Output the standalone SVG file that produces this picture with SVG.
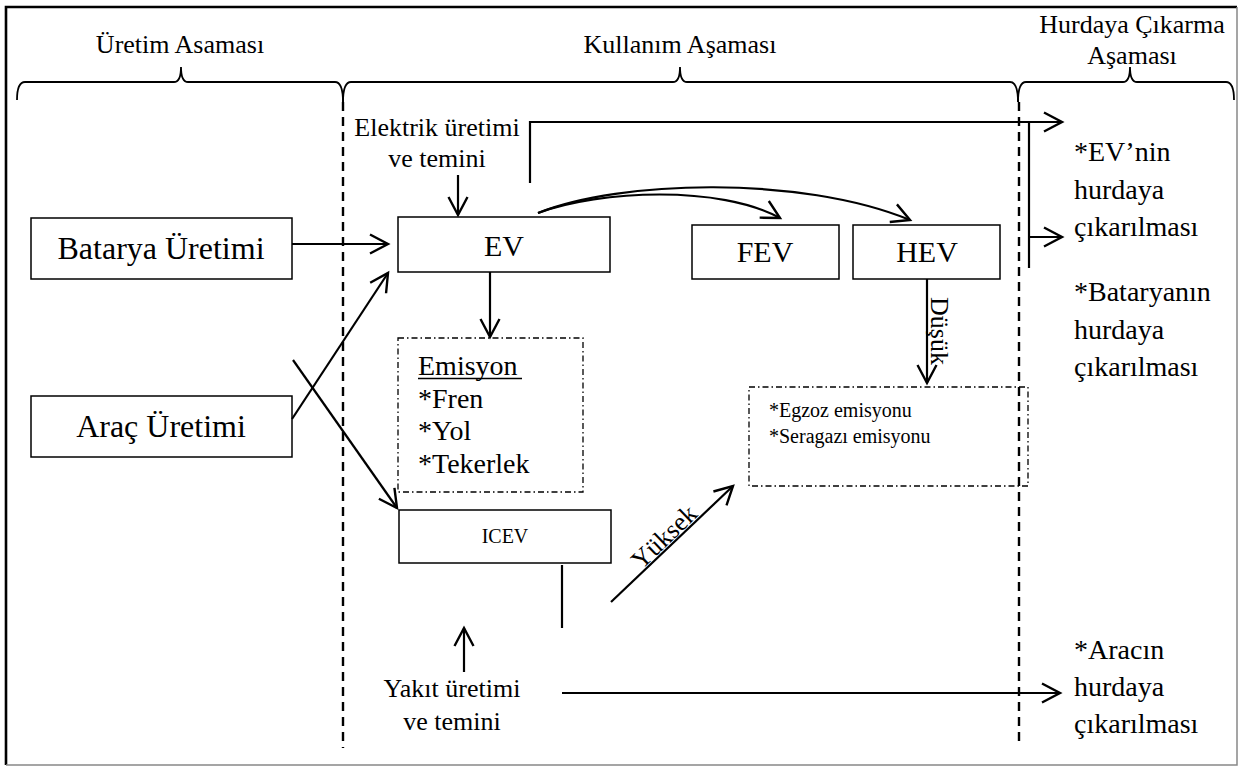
<svg xmlns="http://www.w3.org/2000/svg" width="1240" height="767" viewBox="0 0 1240 767">
<defs>
<style>
text{font-family:"Liberation Serif","Times New Roman",serif;fill:#000}
.box{fill:#fff;stroke:#000;stroke-width:1.5}
.dd{fill:none;stroke:#000;stroke-width:1.3;stroke-dasharray:6 3 1.5 3}
.ln{fill:none;stroke:#000;stroke-width:2.2}
.ar{fill:none;stroke:#000;stroke-width:2.2;marker-end:url(#ah)}
.dash{fill:none;stroke:#000;stroke-width:2.4;stroke-dasharray:9 6}
.br{fill:none;stroke:#000;stroke-width:1.8}
.xl{font-size:32px}
.big{font-size:30px}
.mid{font-size:28px}
.lab{font-size:26px}
.sm{font-size:20px}
</style>
<marker id="ah" markerUnits="userSpaceOnUse" markerWidth="24" markerHeight="24" viewBox="-21 -12 24 24" refX="0" refY="0" orient="auto">
<path d="M-18,-9.5 L0,0 L-18,9.5" fill="none" stroke="#000" stroke-width="2.4"/>
</marker>
</defs>
<rect x="0" y="0" width="1240" height="767" fill="#fff"/>
<g id="frame">
<path d="M6,765 L6,7 L1237,7" fill="none" stroke="#000" stroke-width="2.6"/>
<path d="M1237,7 L1237,765 L6,765" fill="none" stroke="#888" stroke-width="1.5"/>
</g>
<g id="phases">
<text class="lab" x="180" y="53" text-anchor="middle">Üretim Asaması</text>
<text class="lab" x="680" y="53" text-anchor="middle">Kullanım Aşaması</text>
<text class="lab" x="1132" y="33" text-anchor="middle">Hurdaya Çıkarma</text>
<text class="lab" x="1132" y="64" text-anchor="middle">Aşaması</text>
<path class="br" d="M17,100 Q17,82 25,82 L174,82 Q181,82 181,67 Q181,82 188,82 L335,82 Q343,82 343,102"/>
<path class="br" d="M343,102 Q343,82 351,82 L673,82 Q680,82 680,67 Q680,82 687,82 L1010,82 Q1018,82 1018,102"/>
<path class="br" d="M1018,102 Q1018,82 1026,82 L1123,82 Q1130,82 1130,67 Q1130,82 1137,82 L1226,82 Q1234,82 1234,100"/>
<path class="dash" d="M343,102 L343,748"/>
<path class="dash" d="M1019,102 L1019,742"/>
</g>
<g id="batarya">
<rect class="box" x="31" y="218" width="261" height="61"/>
<text class="xl" x="161" y="259" text-anchor="middle">Batarya Üretimi</text>
</g>
<g id="arac">
<rect class="box" x="31" y="396" width="261" height="61"/>
<text class="xl" x="161" y="437" text-anchor="middle">Araç Üretimi</text>
</g>
<g id="elektrik">
<text class="lab" x="437" y="136" text-anchor="middle">Elektrik üretimi</text>
<text class="lab" x="437" y="167" text-anchor="middle">ve temini</text>
</g>
<g id="ev">
<rect class="box" x="398" y="217" width="212" height="55"/>
<text class="big" x="504" y="256" text-anchor="middle">EV</text>
</g>
<g id="fev">
<rect class="box" x="692" y="225" width="147" height="54"/>
<text class="big" x="765" y="262" text-anchor="middle">FEV</text>
</g>
<g id="hev">
<rect class="box" x="853" y="225" width="147" height="54"/>
<text class="big" x="927" y="262" text-anchor="middle">HEV</text>
</g>
<g id="emisyon">
<rect class="dd" x="398" y="338" width="185" height="154"/>
<text class="mid" x="418" y="375">Emisyon</text>
<line x1="418" y1="378.5" x2="522" y2="378.5" stroke="#000" stroke-width="1.6"/>
<text class="mid" x="418" y="408">*Fren</text>
<text class="mid" x="418" y="440">*Yol</text>
<text class="mid" x="418" y="473">*Tekerlek</text>
</g>
<g id="egzoz">
<rect class="dd" x="749" y="387" width="279" height="99"/>
<text class="sm" x="769" y="417">*Egzoz emisyonu</text>
<text class="sm" x="769" y="443">*Seragazı emisyonu</text>
</g>
<g id="icev">
<rect class="box" x="399" y="510" width="212" height="53"/>
<text class="sm" x="505" y="543" text-anchor="middle">ICEV</text>
</g>
<g id="yakit">
<text class="lab" x="452" y="697" text-anchor="middle">Yakıt üretimi</text>
<text class="lab" x="452" y="730" text-anchor="middle">ve temini</text>
</g>
<g id="hurda-ev">
<text class="mid" x="1074" y="161">*EV’nin</text>
<text class="mid" x="1074" y="199">hurdaya</text>
<text class="mid" x="1074" y="236">çıkarılması</text>
</g>
<g id="hurda-batarya">
<text class="mid" x="1074" y="301">*Bataryanın</text>
<text class="mid" x="1074" y="339">hurdaya</text>
<text class="mid" x="1074" y="376">çıkarılması</text>
</g>
<g id="hurda-arac">
<text class="mid" x="1074" y="659">*Aracın</text>
<text class="mid" x="1074" y="696">hurdaya</text>
<text class="mid" x="1074" y="733">çıkarılması</text>
</g>
<g id="connectors">
<path class="ar" d="M292,244 L388,244"/>
<path class="ar" d="M292,419 L388,273"/>
<path class="ar" d="M293,360 L397,508"/>
<path class="ar" d="M458,175 L458,215"/>
<path class="ar" d="M490,272 L490,337"/>
<path class="ar" d="M538,213 C600,190 720,185 780,218"/>
<path class="ar" d="M538,213 C620,180 800,175 910,220"/>
<path class="ar" d="M530,183 L530,122 L1062,122"/>
<path class="ln" d="M1029,122 L1029,268"/>
<path class="ar" d="M1029,237 L1062,237"/>
<path class="ar" d="M927,279 L927,383"/>
<text class="lab" x="931" y="297" transform="rotate(90 931 297)">Düşük</text>
<path class="ln" d="M562,565 L562,628"/>
<path class="ar" d="M464,672 L464,628"/>
<path class="ar" d="M562,693 L1060,693"/>
<path class="ar" d="M611,602 L733,486"/>
<text class="lab" x="670" y="543" text-anchor="middle" transform="rotate(-43.6 670 543)">Yüksek</text>
</g>
</svg>
